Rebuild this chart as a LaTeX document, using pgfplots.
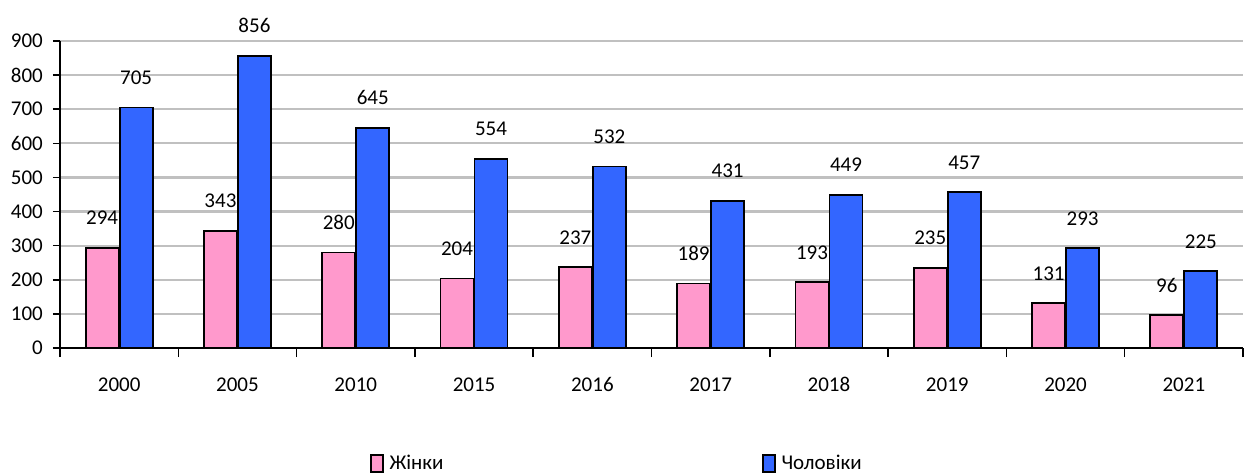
\documentclass[border=0pt]{standalone}
\usepackage{fontspec}
\setmainfont{Carlito}
\usepackage{pgfplots}
\pgfplotsset{compat=1.18}
\definecolor{pinkbar}{RGB}{255,153,204}
\definecolor{bluebar}{RGB}{51,102,255}
\definecolor{gridgray}{RGB}{192,192,192}
\pgfplotsset{sqlegend/.style={legend image code/.code={\draw[##1, line width=2pt] (0pt,-8pt) rectangle (12pt,9pt);}}}
\begin{document}
\fontsize{21}{25}\selectfont
\begin{tikzpicture}
\begin{axis}[
  scale only axis, width=1183pt, height=307pt,
  xmin=-0.5, xmax=9.5, ymin=0, ymax=900,
  axis x line*=bottom, axis y line*=left,
  axis line style={black, line width=1.8pt},
  ybar, bar width=33pt,
  ytick={0,100,...,900},
  ymajorgrids, major grid style={gridgray, line width=2.2pt},
  tick align=outside,
  major tick length=7pt,
  minor tick length=9pt,
  ytick style={black, line width=1.5pt},
  xtick={0,...,9},
  xticklabels={2000,2005,2010,2015,2016,2017,2018,2019,2020,2021},
  major x tick style={draw=none},
  minor xtick={-0.5,0.5,...,9.5},
  minor x tick style={black, line width=1.5pt},
  xticklabel style={yshift=-15pt, text height=14pt},
  yticklabel style={xshift=-3pt},
  /pgf/number format/assume math mode=true,
  ticklabel style={font=\fontsize{21}{25}\selectfont},
  nodes near coords,
  nodes near coords style={font=\fontsize{21}{25}\selectfont, anchor=south, inner sep=0pt, yshift=22pt},
  legend style={at={(axis description cs:0.259,-0.378)}, anchor=west, draw=none, fill=none,
    legend columns=2, font=\fontsize{21}{25}\selectfont,
    nodes={inner xsep=6pt},
    /tikz/every even column/.append style={column sep=312pt}},
]
\addplot[fill=pinkbar, draw=black, line width=1.8pt, bar shift=-17pt, sqlegend]
  coordinates {(0,294) (1,343) (2,280) (3,204) (4,237) (5,189) (6,193) (7,235) (8,131) (9,96)};
\addplot[fill=bluebar, draw=black, line width=1.8pt, bar shift=17pt, sqlegend]
  coordinates {(0,705) (1,856) (2,645) (3,554) (4,532) (5,431) (6,449) (7,457) (8,293) (9,225)};
\legend{Жінки, Чоловіки}
\end{axis}
\pgfresetboundingbox
\path (-60pt,-126pt) rectangle (1192pt,348pt);
\end{tikzpicture}
\end{document}
